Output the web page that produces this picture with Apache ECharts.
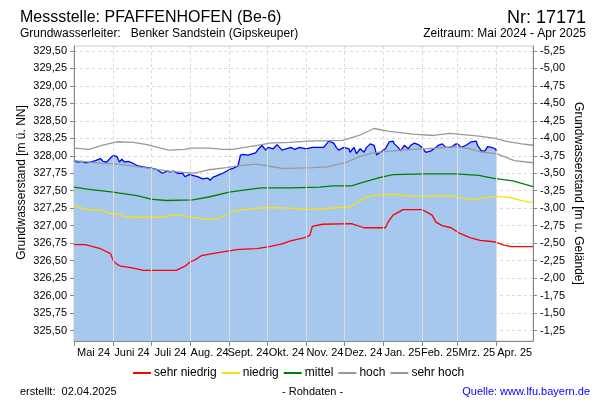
<!DOCTYPE html>
<html><head><meta charset="utf-8">
<script src="https://cdn.jsdelivr.net/npm/echarts@6/dist/echarts.min.js"></script>
<style>html,body{margin:0;padding:0;background:#fff}#c{width:600px;height:400px}</style>
</head><body><div id="c"></div>
<script>
// ---- data ----
const monthStarts = ['2024-05-01','2024-06-01','2024-07-01','2024-08-01','2024-09-01','2024-10-01','2024-11-01','2024-12-01','2025-01-01','2025-02-01','2025-03-01','2025-04-01','2025-05-01'];
const monthLabels = ['Mai 24','Juni 24','Juli 24','Aug. 24','Sept. 24','Okt. 24','Nov. 24','Dez. 24','Jan. 25','Feb. 25','Mrz. 25','Apr. 25'];
const leftTicks = [325.5,325.75,326,326.25,326.5,326.75,327,327.25,327.5,327.75,328,328.25,328.5,328.75,329,329.25,329.5];
const rightTicks = [-5.25,-5,-4.75,-4.5,-4.25,-4,-3.75,-3.5,-3.25,-3,-2.75,-2.5,-2.25,-2,-1.75,-1.5,-1.25];
const depthOffset = 324.25; // m u. Gelände = depthOffset - level
const legendNames = ['sehr niedrig','niedrig','mittel','hoch','sehr hoch'];

const measured = [
['2024-05-01',327.93],['2024-05-04',327.91],['2024-05-07',327.92],['2024-05-10',327.90],['2024-05-14',327.91],
['2024-05-18',327.93],['2024-05-22',327.96],['2024-05-24',327.92],['2024-05-27',327.91],['2024-05-30',327.97],
['2024-06-01',328.00],['2024-06-04',327.99],['2024-06-06',327.91],['2024-06-08',327.95],['2024-06-10',327.91],
['2024-06-13',327.92],['2024-06-16',327.90],['2024-06-20',327.86],['2024-06-25',327.84],['2024-07-02',327.82],
['2024-07-06',327.80],['2024-07-10',327.75],['2024-07-11',327.77],['2024-07-14',327.78],['2024-07-16',327.77],
['2024-07-19',327.78],['2024-07-22',327.75],['2024-07-26',327.75],['2024-07-28',327.70],['2024-07-31',327.73],
['2024-08-03',327.72],['2024-08-07',327.70],['2024-08-11',327.67],['2024-08-12',327.65],['2024-08-15',327.68],
['2024-08-17',327.65],['2024-08-19',327.69],['2024-08-23',327.72],['2024-08-27',327.75],['2024-09-01',327.80],
['2024-09-04',327.82],['2024-09-08',327.85],['2024-09-10',328.01],['2024-09-12',328.02],['2024-09-16',328.01],
['2024-09-18',328.02],['2024-09-22',328.04],['2024-09-24',328.09],['2024-09-27',328.15],['2024-09-30',328.08],
['2024-10-02',328.12],['2024-10-06',328.10],['2024-10-09',328.16],['2024-10-13',328.08],['2024-10-16',328.10],
['2024-10-20',328.12],['2024-10-23',328.09],['2024-10-27',328.12],['2024-11-01',328.10],['2024-11-06',328.12],
['2024-11-10',328.12],['2024-11-15',328.12],['2024-11-19',328.21],['2024-11-23',328.18],['2024-11-25',328.12],
['2024-11-27',328.08],['2024-12-01',328.12],['2024-12-05',328.10],['2024-12-06',328.05],['2024-12-09',328.12],
['2024-12-11',328.03],['2024-12-14',328.10],['2024-12-17',328.05],['2024-12-19',328.12],['2024-12-22',328.17],
['2024-12-25',328.15],['2024-12-27',328.01],['2024-12-30',328.05],['2025-01-03',328.10],['2025-01-06',328.20],
['2025-01-09',328.21],['2025-01-10',328.17],['2025-01-13',328.12],['2025-01-15',328.07],['2025-01-18',328.15],
['2025-01-21',328.10],['2025-01-23',328.15],['2025-01-26',328.18],['2025-01-29',328.16],['2025-02-01',328.12],
['2025-02-04',328.05],['2025-02-08',328.07],['2025-02-12',328.12],['2025-02-14',328.15],['2025-02-17',328.17],
['2025-02-20',328.12],['2025-02-24',328.12],['2025-02-28',328.17],['2025-03-02',328.16],['2025-03-04',328.12],
['2025-03-08',328.15],['2025-03-12',328.20],['2025-03-16',328.21],['2025-03-17',328.15],['2025-03-20',328.07],
['2025-03-23',328.07],['2025-03-25',328.13],['2025-03-28',328.12],['2025-03-31',328.10],['2025-04-01',328.07]
];

const sehrNiedrig = [
['2024-05-01',326.73],['2024-05-10',326.73],['2024-05-22',326.67],['2024-05-30',326.60],['2024-06-01',326.50],
['2024-06-04',326.45],['2024-06-07',326.42],['2024-06-15',326.40],['2024-06-25',326.36],['2024-07-21',326.36],
['2024-07-28',326.42],['2024-08-01',326.48],['2024-08-05',326.51],['2024-08-10',326.57],['2024-08-22',326.61],
['2024-09-01',326.64],['2024-09-09',326.66],['2024-09-23',326.67],['2024-10-03',326.70],['2024-10-13',326.74],
['2024-10-19',326.78],['2024-10-31',326.83],['2024-11-04',326.86],['2024-11-06',326.99],['2024-11-14',327.02],
['2024-12-07',327.03],['2024-12-17',326.97],['2025-01-03',326.97],['2025-01-05',327.05],['2025-01-09',327.15],
['2025-01-17',327.23],['2025-02-01',327.23],['2025-02-09',327.15],['2025-02-12',327.05],['2025-02-17',327.00],
['2025-02-24',326.97],['2025-03-03',326.89],['2025-03-11',326.83],['2025-03-19',326.79],['2025-03-30',326.77],
['2025-04-07',326.72],['2025-04-13',326.70],['2025-04-30',326.70]
];
const niedrig = [
['2024-05-01',327.29],['2024-05-05',327.26],['2024-05-13',327.23],['2024-05-23',327.22],['2024-05-31',327.17],
['2024-06-07',327.16],['2024-06-10',327.13],['2024-06-17',327.12],['2024-07-11',327.12],['2024-07-17',327.15],
['2024-07-25',327.15],['2024-07-30',327.13],['2024-08-07',327.11],['2024-08-12',327.09],['2024-08-18',327.09],
['2024-08-24',327.11],['2024-08-31',327.17],['2024-09-05',327.21],['2024-09-18',327.24],['2024-10-02',327.26],
['2024-10-20',327.25],['2024-10-31',327.23],['2024-11-16',327.24],['2024-11-26',327.26],['2024-12-04',327.26],
['2024-12-11',327.32],['2024-12-17',327.39],['2024-12-23',327.43],['2025-01-08',327.45],['2025-01-24',327.42],
['2025-02-03',327.42],['2025-02-23',327.43],['2025-03-03',327.40],['2025-03-14',327.37],['2025-03-22',327.40],
['2025-04-01',327.42],['2025-04-12',327.40],['2025-04-23',327.35],['2025-04-30',327.33]
];
const mittel = [
['2024-05-01',327.55],['2024-05-13',327.52],['2024-06-01',327.48],['2024-06-20',327.43],['2024-07-01',327.38],
['2024-07-13',327.36],['2024-08-03',327.37],['2024-08-16',327.41],['2024-09-01',327.48],['2024-09-17',327.52],
['2024-09-27',327.54],['2024-10-19',327.54],['2024-11-12',327.55],['2024-11-22',327.57],['2024-12-07',327.57],
['2024-12-16',327.62],['2024-12-30',327.69],['2025-01-09',327.73],['2025-02-04',327.74],['2025-02-28',327.74],
['2025-03-18',327.72],['2025-03-29',327.68],['2025-04-02',327.67],['2025-04-14',327.64],['2025-04-30',327.56]
];
const hoch = [
['2024-05-01',327.93],['2024-05-13',327.91],['2024-05-23',327.89],['2024-06-04',327.88],['2024-06-14',327.86],
['2024-06-30',327.82],['2024-07-15',327.78],['2024-07-29',327.76],['2024-08-05',327.75],['2024-08-16',327.80],
['2024-08-30',327.83],['2024-09-09',327.86],['2024-09-23',327.88],['2024-10-03',327.85],['2024-10-13',327.82],
['2024-10-19',327.82],['2024-11-07',327.83],['2024-11-18',327.84],['2024-12-02',327.90],['2024-12-14',327.99],
['2024-12-24',328.04],['2025-01-09',328.07],['2025-01-25',328.09],['2025-02-05',328.10],['2025-02-28',328.13],
['2025-03-11',328.10],['2025-03-21',328.05],['2025-04-01',328.03],['2025-04-15',327.93],['2025-04-30',327.90]
];
const sehrHoch = [
['2024-05-01',328.11],['2024-05-13',328.09],['2024-05-23',328.15],['2024-06-04',328.20],['2024-06-17',328.19],
['2024-06-28',328.16],['2024-07-15',328.08],['2024-07-28',328.09],['2024-08-01',328.11],['2024-08-16',328.11],
['2024-08-27',328.09],['2024-09-04',328.09],['2024-09-17',328.13],['2024-09-27',328.16],['2024-10-03',328.18],
['2024-10-19',328.19],['2024-11-03',328.21],['2024-11-30',328.22],['2024-12-13',328.29],['2024-12-25',328.39],
['2025-01-06',328.35],['2025-01-25',328.31],['2025-02-10',328.29],['2025-02-23',328.32],['2025-03-18',328.28],
['2025-03-31',328.25],['2025-04-08',328.21],['2025-04-21',328.17],['2025-04-30',328.15]
];

// ---- chart ----
const yMin = 325.35, yMax = 329.57;
const xMin = '2024-05-01', xMax = '2025-04-30';
const ts = d => new Date(d + 'T00:00:00Z').getTime();
const fmt = v => v.toFixed(2).replace('.', ',');

const midMonths = monthLabels.map((l, i) => (ts(monthStarts[i]) + Math.min(ts(monthStarts[i + 1]), ts(xMax))) / 2);
const labelFor = v => { let best = 0, bd = Infinity; midMonths.forEach((m, i) => { const d = Math.abs(m - v); if (d < bd) { bd = d; best = i; } }); return monthLabels[best]; };

function interp(series, t) {
  for (let i = 0; i < series.length - 1; i++) {
    const a = ts(series[i][0]), b = ts(series[i + 1][0]);
    if (t >= a && t <= b) return series[i][1] + (series[i + 1][1] - series[i][1]) * (t - a) / (b - a);
  }
  return null;
}
const lastMeasured = ts(measured[measured.length - 1][0]);
const whiteLines = monthStarts.slice(1).filter(d => ts(d) <= lastMeasured).map(d => {
  const v = interp(measured, ts(d));
  return [{ coord: [ts(d), yMin] }, { coord: [ts(d), v] }];
});

const toTs = arr => arr.map(p => [ts(p[0]), p[1]]);
const lineSeries = (name, data, color) => ({
  name, type: 'line', data: toTs(data), symbol: 'none', showSymbol: false,
  lineStyle: { color, width: 1.3 }, itemStyle: { color }, z: 3
});

const chart = echarts.init(document.getElementById('c'), null, { renderer: 'canvas' });
const FONT = 'Liberation Sans, Arial, sans-serif';
const tStyle = (size, color) => ({ fontSize: size, fontWeight: 'normal', color: color || '#000', fontFamily: FONT });
chart.setOption({
  animation: false,
  textStyle: { fontFamily: FONT },
  title: [
    { text: 'Messstelle: PFAFFENHOFEN (Be-6)', left: 20, top: 10, padding: 0, textStyle: tStyle(16) },
    { text: 'Nr: 17171', right: 14, top: 9, padding: 0, textStyle: tStyle(18) },
    { text: 'Grundwasserleiter:   Benker Sandstein (Gipskeuper)', left: 20, top: 28, padding: 0, textStyle: tStyle(12) },
    { text: 'Zeitraum: Mai 2024 - Apr 2025', right: 14, top: 28, padding: 0, textStyle: tStyle(12) },
    { text: 'erstellt:  02.04.2025', left: 20, top: 386, padding: 0, textStyle: tStyle(11) },
    { text: '- Rohdaten -', left: 282, top: 386, padding: 0, textStyle: tStyle(11) },
    { text: 'Quelle: www.lfu.bayern.de', right: 10, top: 386, padding: 0, textStyle: tStyle(11, '#0000ff') }
  ],
  legend: {
    data: legendNames.map(n => ({ name: n, icon: 'rect' })), left: 133, top: 367, padding: 0,
    itemWidth: 18, itemHeight: 2, itemGap: 5,
    textStyle: { fontSize: 12, color: '#000', fontFamily: FONT, padding: [0, 0, 0, -2] }, selectedMode: false
  },
  grid: { left: 74, right: 67, top: 46, bottom: 59, containLabel: false, show: true, borderColor: '#cccccc', borderWidth: 1, backgroundColor: 'transparent' },
  xAxis: {
    type: 'value', min: ts(xMin), max: ts(xMax),
    axisLine: { lineStyle: { color: '#888' } },
    axisTick: { show: true, length: 5, lineStyle: { color: '#888' }, customValues: monthStarts.slice(0, 12).map(ts) },
    axisLabel: { customValues: midMonths, formatter: v => labelFor(v), color: '#000', fontSize: 11, margin: 6, fontFamily: FONT },
    splitLine: { show: true, lineStyle: { color: '#d9d9d9', type: [3, 3], width: 1 } }
  },
  yAxis: [
    {
      type: 'value', min: yMin, max: yMax, position: 'left',
      name: 'Grundwasserstand [m ü. NN]', nameLocation: 'middle', nameGap: 46, nameRotate: 90, nameMoveOverlap: false,
      nameTextStyle: { fontSize: 12, color: '#000', padding: [0, 0, 0, 22], fontFamily: FONT },
      axisLine: { show: true, lineStyle: { color: '#888' } },
      axisTick: { show: true, length: 4, lineStyle: { color: '#888' }, customValues: leftTicks },
      axisLabel: { customValues: leftTicks, formatter: fmt, color: '#000', fontSize: 11, margin: 7, fontFamily: FONT },
      splitLine: { show: true, lineStyle: { color: '#d9d9d9', type: [3, 3], width: 1 } }
    },
    {
      type: 'value', inverse: true, min: depthOffset - yMax, max: depthOffset - yMin, position: 'right',
      name: 'Grundwasserstand [m u. Gelände]', nameLocation: 'middle', nameGap: 39, nameRotate: -90, nameMoveOverlap: false,
      nameTextStyle: { fontSize: 12, color: '#000', fontFamily: FONT },
      axisLine: { show: true, lineStyle: { color: '#888' } },
      axisTick: { show: true, length: 4, lineStyle: { color: '#888' }, customValues: rightTicks },
      axisLabel: { customValues: rightTicks, formatter: fmt, color: '#000', fontSize: 11, margin: 7, fontFamily: FONT },
      splitLine: { show: false }
    }
  ],
  series: [
    {
      name: 'Messwerte', type: 'line', data: toTs(measured), symbol: 'none', showSymbol: false,
      lineStyle: { color: '#0000ff', width: 1.3 }, itemStyle: { color: '#0000ff' },
      areaStyle: { color: '#a6c8ef', opacity: 1, origin: 'start' }, z: 2,
      markLine: {
        silent: true, symbol: ['none', 'none'], label: { show: false }, animation: false,
        lineStyle: { color: '#dcdcdc', type: 'solid', width: 1 }, data: whiteLines
      }
    },
    lineSeries('sehr niedrig', sehrNiedrig, '#ff0000'),
    lineSeries('niedrig', niedrig, '#ffe000'),
    lineSeries('mittel', mittel, '#008000'),
    lineSeries('hoch', hoch, '#999999'),
    lineSeries('sehr hoch', sehrHoch, '#999999')
  ]
});
</script></body></html>
